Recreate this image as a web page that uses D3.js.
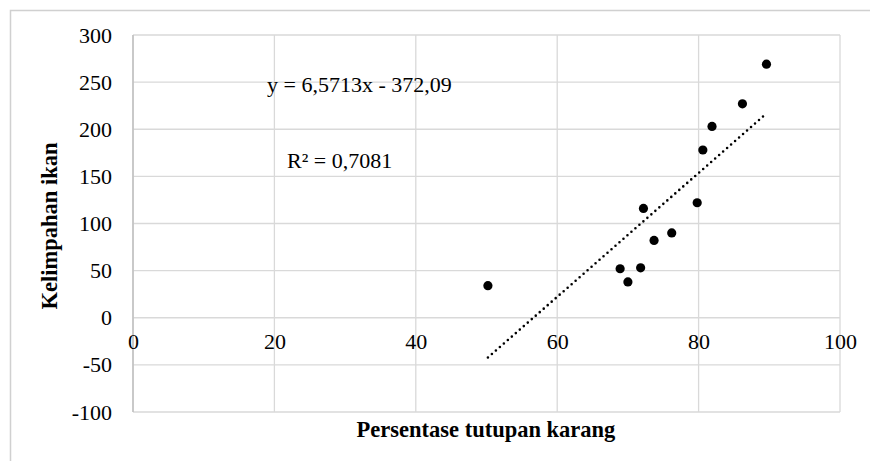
<!DOCTYPE html>
<html>
<head>
<meta charset="utf-8">
<script src="https://cdn.jsdelivr.net/npm/d3@7"></script>
<style>
  body { margin: 0; background: #fff; }
  svg { display: block; font-family: "Liberation Serif", "Times New Roman", serif; }
</style>
</head>
<body>
<div class="chart"></div>
<script>
// coral cover (%) vs fish abundance
const coverX = [50.2, 68.9, 70.0, 71.8, 72.2, 73.7, 76.2, 79.8, 80.6, 81.9, 86.2, 89.6];
const abundanceY = [34, 52, 38, 53, 116, 82, 90, 122, 178, 203, 227, 269];
const xTicks = [0, 20, 40, 60, 80, 100];
const yTicks = [-100, -50, 0, 50, 100, 150, 200, 250, 300];
const slope = 6.5713, intercept = -372.09;
const eqLabel = "y = 6,5713x - 372,09";
const r2Label = "R² = 0,7081";
const xTitle = "Persentase tutupan karang";
const yTitle = "Kelimpahan ikan";

const W = 870, H = 461;
const margin = { top: 35, right: 30, bottom: 49, left: 133 };
const width = 840 - margin.left;
const height = 412 - margin.top;
const fs = 22;

const svg = d3.select(".chart").append("svg")
    .attr("width", W)
    .attr("height", H);

// outer chart border
svg.append("rect")
    .attr("x", 10.5).attr("y", 10.5)
    .attr("width", 900).attr("height", 500)
    .attr("fill", "none").attr("stroke", "#d0d0d0").attr("stroke-width", 1.5);

const g = svg.append("g").attr("transform", "translate(" + margin.left + "," + margin.top + ")");

const x = d3.scaleLinear().domain([0, 100]).range([0, width]);
const y = d3.scaleLinear().domain([-100, 300]).range([height, 0]);

// grid
g.append("g").selectAll("line.h").data(yTicks).join("line")
    .attr("x1", 0).attr("x2", width)
    .attr("y1", d => y(d)).attr("y2", d => y(d))
    .attr("stroke", "#d9d9d9").attr("stroke-width", 1.3);
g.append("g").selectAll("line.v").data(xTicks).join("line")
    .attr("x1", d => x(d)).attr("x2", d => x(d))
    .attr("y1", 0).attr("y2", height)
    .attr("stroke", "#d9d9d9").attr("stroke-width", 1.3);

// vertical axis line
g.append("line")
    .attr("x1", 0).attr("x2", 0).attr("y1", 0).attr("y2", height)
    .attr("stroke", "#bfbfbf").attr("stroke-width", 1.5);

// y tick labels (plain hyphen for negatives)
const yAxis = d3.axisLeft(y).tickValues(yTicks).tickSize(0).tickPadding(21)
    .tickFormat(d => String(d));
g.append("g").call(yAxis)
    .call(a => a.select(".domain").remove())
    .selectAll("text")
    .attr("font-family", "Liberation Serif, serif")
    .attr("font-size", fs).attr("fill", "#000");

// x tick labels sit just under the zero line
const xAxis = d3.axisBottom(x).tickValues(xTicks).tickSize(0).tickPadding(16)
    .tickFormat(d => String(d));
g.append("g").attr("transform", "translate(0," + y(0) + ")").call(xAxis)
    .call(a => a.select(".domain").remove())
    .selectAll("text")
    .attr("font-family", "Liberation Serif, serif")
    .attr("font-size", fs).attr("fill", "#000");

// trendline
const xMin = d3.min(coverX), xMax = d3.max(coverX);
g.append("line")
    .attr("x1", x(xMin)).attr("y1", y(slope * xMin + intercept))
    .attr("x2", x(xMax)).attr("y2", y(slope * xMax + intercept))
    .attr("stroke", "#000").attr("stroke-width", 2.6)
    .attr("stroke-linecap", "round").attr("stroke-dasharray", "0 5.3");

// points
g.append("g").selectAll("circle").data(coverX).join("circle")
    .attr("cx", d => x(d))
    .attr("cy", (d, i) => y(abundanceY[i]))
    .attr("r", 4.6)
    .attr("fill", "#000");

// equation labels
svg.append("text").attr("x", 267).attr("y", 92)
    .attr("font-size", fs).text(eqLabel);
svg.append("text").attr("x", 287).attr("y", 168)
    .attr("font-size", fs).text(r2Label);

// axis titles
svg.append("text")
    .attr("x", 486).attr("y", 437)
    .attr("text-anchor", "middle")
    .attr("font-size", 22.5).attr("font-weight", "bold")
    .text(xTitle);
svg.append("text")
    .attr("transform", "translate(57,226) rotate(-90)")
    .attr("text-anchor", "middle")
    .attr("font-size", 22.5).attr("font-weight", "bold")
    .text(yTitle);
</script>
</body>
</html>
